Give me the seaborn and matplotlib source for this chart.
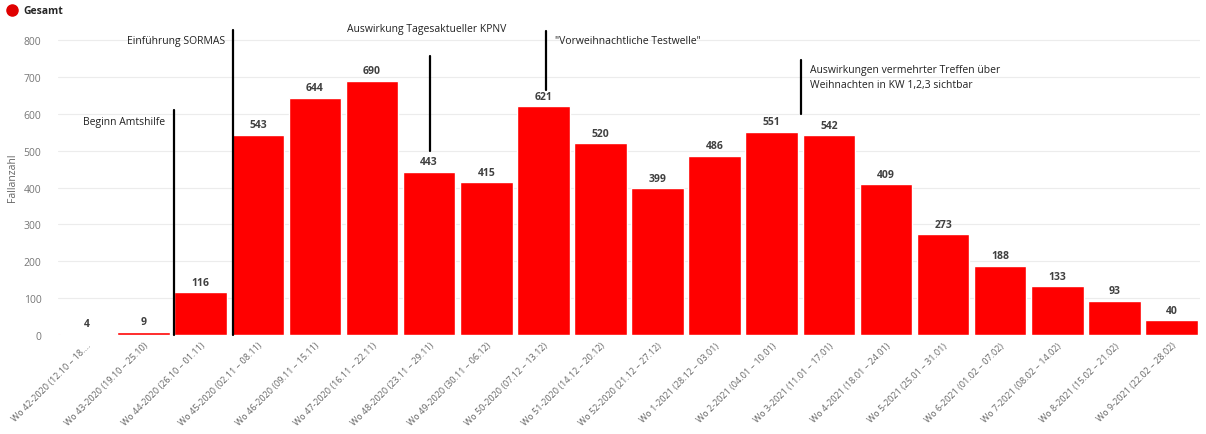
import matplotlib.pyplot as plt
import matplotlib.lines as mlines
import seaborn as sns
import pandas as pd

# Data

weeks = ['Wo 42-2020 (12.10 – 18....', 'Wo 43-2020 (19.10 – 25.10)', 'Wo 44-2020 (26.10 – 01.11)',
         'Wo 45-2020 (02.11 – 08.11)', 'Wo 46-2020 (09.11 – 15.11)', 'Wo 47-2020 (16.11 – 22.11)',
         'Wo 48-2020 (23.11 – 29.11)', 'Wo 49-2020 (30.11 – 06.12)', 'Wo 50-2020 (07.12 – 13.12)',
         'Wo 51-2020 (14.12 – 20.12)', 'Wo 52-2020 (21.12 – 27.12)', 'Wo 1-2021 (28.12 – 03.01)',
         'Wo 2-2021 (04.01 – 10.01)', 'Wo 3-2021 (11.01 – 17.01)', 'Wo 4-2021 (18.01 – 24.01)',
         'Wo 5-2021 (25.01 – 31.01)', 'Wo 6-2021 (01.02 – 07.02)', 'Wo 7-2021 (08.02 – 14.02)',
         'Wo 8-2021 (15.02 – 21.02)', 'Wo 9-2021 (22.02 – 28.02)']
cases = [4, 9, 116, 543, 644, 690, 443, 415, 621, 520, 399, 486, 551, 542, 409, 273, 188, 133, 93, 40]

# annotations: text, text x, text y, ha, line x, line y from, line y to
annotationTexts = ['Beginn Amtshilfe', 'Einführung SORMAS', 'Auswirkung Tagesaktueller KPNV',
                   '"Vorweihnachtliche Testwelle"',
                   'Auswirkungen vermehrter Treffen über\nWeihnachten in KW 1,2,3 sichtbar']
annotationTextX = [0.66, 1.57, 5.96, 8.20, 12.67]
annotationTextY = [580, 800, 832, 800, 700]
annotationAlign = ['center', 'center', 'center', 'left', 'left']
lineX = [1.54, 2.56, 6.01, 8.05, 12.51]
lineBottom = [0, 0, 500, 665, 600]
lineTop = [610, 827, 757, 825, 745]

df = pd.DataFrame({'Woche': weeks, 'Fallanzahl': cases})

sns.set_style('white')
plt.rcParams['font.family'] = ['Open Sans', 'DejaVu Sans']

fig = plt.figure(figsize=(12.06, 4.35), dpi=100)
ax = fig.add_axes([58 / 1206, 99 / 435, 1142 / 1206, 317 / 435])

sns.barplot(ax=ax, data=df, x='Woche', y='Fallanzahl', color='#ff0000', saturation=1, width=0.92)

for bar, val in zip(ax.patches, cases):
  ax.text(bar.get_x() + bar.get_width() / 2, val + 12, str(val), ha='center', va='bottom',
          fontsize=7.5, color='#404040', fontweight='bold')

for txt, tx, ty, ha, lx, y0, y1 in zip(annotationTexts, annotationTextX, annotationTextY,
                                       annotationAlign, lineX, lineBottom, lineTop):
  ax.plot([lx, lx], [y0, y1], color='black', lw=1.6, clip_on=False, zorder=5)
  ax.text(tx, ty, txt, ha=ha, va='center', fontsize=7.5, color='#222222', linespacing=1.4)

ax.set_xlim(-0.5, len(cases) - 0.5)
ax.set_ylim(0, 860)
ax.set_yticks(range(0, 801, 100))
ax.yaxis.grid(True, color='#ececec', lw=0.8)
ax.set_axisbelow(True)
for s in ax.spines.values():
  s.set_visible(False)
ax.tick_params(axis='y', labelsize=7.5, labelcolor='#777777', length=0, pad=12)
ax.tick_params(axis='x', labelsize=6.5, labelcolor='#666666', length=0, pad=4)
plt.setp(ax.get_xticklabels(), rotation=45, ha='right', rotation_mode='anchor')
ax.set_xlabel('')
ax.set_ylabel('Fallanzahl', fontsize=7.5, color='#666666', labelpad=4)

handle = mlines.Line2D([], [], color='#e00000', marker='o', linestyle='', markersize=8)
fig.legend([handle], ['Gesamt'], loc='upper left', bbox_to_anchor=(-0.004, 1.0), frameon=False,
           prop={'size': 7.5, 'weight': 'bold'}, handletextpad=0.1, borderaxespad=0.2)

fig.savefig('out.png', dpi=100)
